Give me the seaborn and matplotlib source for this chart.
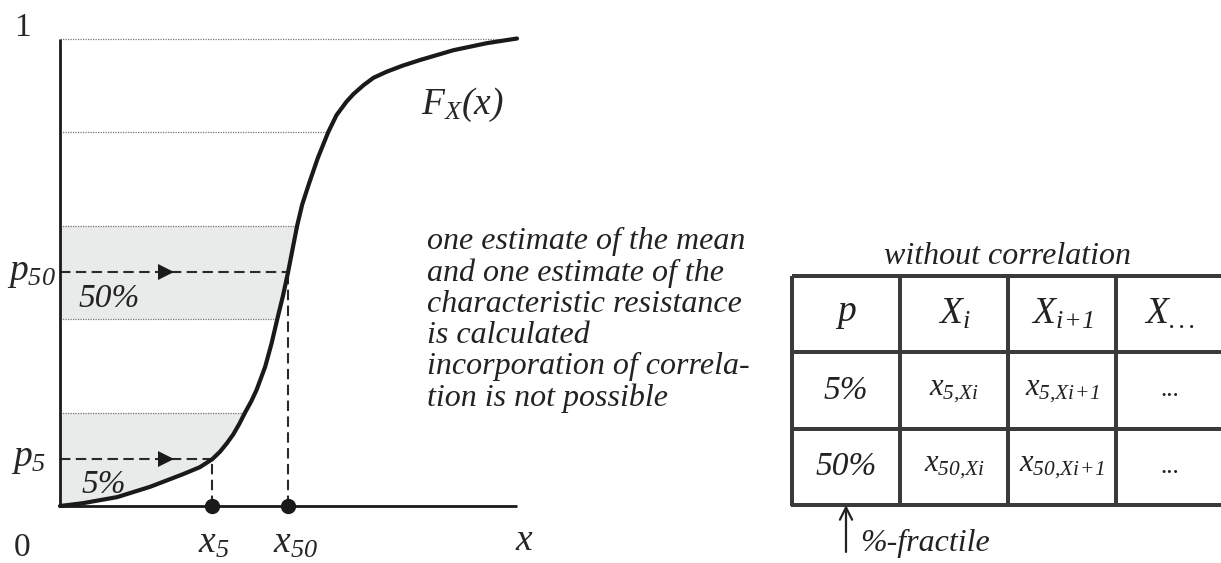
import numpy as np
import pandas as pd
import matplotlib
matplotlib.use("Agg")
import matplotlib.pyplot as plt
from matplotlib.colors import ListedColormap
import seaborn as sns

# CDF curve (x scaled 0..1, F 0..1)
cdf_x = [0, 0.05, 0.125, 0.197, 0.269, 0.306, 0.333, 0.35, 0.365, 0.379, 0.392, 0.405,
         0.418, 0.43, 0.449, 0.463, 0.4755, 0.488, 0.499, 0.509, 0.519, 0.53, 0.545,
         0.564, 0.587, 0.605, 0.627, 0.642, 0.664, 0.686, 0.715, 0.75, 0.788, 0.861,
         0.934, 1.0]
cdf_y = [0, 0.006, 0.019, 0.041, 0.068, 0.083, 0.1, 0.116, 0.134, 0.153, 0.175, 0.2,
         0.223, 0.248, 0.298, 0.348, 0.4, 0.45, 0.5, 0.55, 0.6, 0.645, 0.69,
         0.744, 0.8, 0.836, 0.865, 0.881, 0.9, 0.916, 0.929, 0.942, 0.954, 0.975,
         0.99, 1.0]

grid_levels = [0.2, 0.4, 0.6, 0.8]
shaded_bands = [(0.0, 0.2), (0.4, 0.6)]
p5, p50 = 0.1, 0.5
x5, x50 = 0.333, 0.499

paragraph = ["one estimate of the mean",
             "and one estimate of the",
             "characteristic resistance",
             "is calculated",
             "incorporation of correla-",
             "tion is not possible"]

table_cols = ["$p$", "$X_i$", r"$X_{i\!+\!1}$", "$X_{...}$"]
table_rows = [["5%", "$x_{5{,}Xi}$", r"$x_{5{,}Xi\!+\!1}$", "..."],
              ["50%", "$x_{50{,}Xi}$", r"$x_{50{,}Xi\!+\!1}$", "..."]]

sns.set_style("white")
plt.rcParams["font.family"] = ["Liberation Serif", "DejaVu Serif"]
plt.rcParams["mathtext.fontset"] = "custom"
plt.rcParams["mathtext.rm"] = "Liberation Serif:italic"
plt.rcParams["mathtext.it"] = "Liberation Serif:italic"

W, H = 1221, 563
fig = plt.figure(figsize=(W / 100, H / 100), dpi=100)

# ---- left: distribution function ----
ax = fig.add_axes([60 / W, (H - 506) / H, 457 / W, 467.5 / H])
ax.set_xlim(0, 1)
ax.set_ylim(0, 1)
ax.axis("off")

cx = np.array(cdf_x)
cy = np.array(cdf_y)
shade = "#e9ebeb"
for lo, hi in shaded_bands:
    m = (cy >= lo) & (cy <= hi)
    ax.fill_betweenx(cy[m], 0, cx[m], color=shade, lw=0, zorder=1)

for lv in grid_levels:
    ax.plot([0, np.interp(lv, cy, cx)], [lv, lv], color="#777777", lw=0.9,
            ls=(0, (1, 1)), zorder=2)
ax.plot([0, 1], [1, 1], color="#777777", lw=0.9, ls=(0, (1, 1)), zorder=2)

dash = (0, (5, 2.6))
for pv, xv in [(p5, x5), (p50, x50)]:
    ax.plot([0, xv], [pv, pv], color="#2a2a2a", lw=1.5, ls=dash, zorder=3)
    ax.plot([xv, xv], [0, pv], color="#2a2a2a", lw=1.5, ls=dash, zorder=3)
    ax.plot([0.232], [pv], marker=">", ms=12, color="#1a1a1a", zorder=4,
            markeredgewidth=0)

ax.plot([0, 0], [0, 1], color="#1a1a1a", lw=2.0, zorder=5, solid_capstyle="butt")
ax.plot([0, 1], [0, 0], color="#1a1a1a", lw=2.0, zorder=5, solid_capstyle="butt")

sns.lineplot(x=cdf_x, y=cdf_y, ax=ax, color="#1a1a1a", lw=3.0, sort=False,
             estimator=None, zorder=6)
ax.plot([x5, x50], [0, 0], "o", ms=10, color="#1a1a1a", zorder=7)
for ln in ax.lines:
    ln.set_clip_on(False)

ax.text(-0.083, 1.023, "1", fontsize=24, ha="center", va="center")
ax.text(-0.083, -0.09, "0", fontsize=24, ha="center", va="center")
ax.text(1.017, -0.075, "$x$", fontsize=27, ha="center", va="center")
ax.text(0.337, -0.1, "$x_5$", fontsize=27, ha="center", va="baseline")
ax.text(0.515, -0.1, "$x_{50}$", fontsize=27, ha="center", va="baseline")
ax.text(-0.01, p50, "$p_{50}$", fontsize=27, ha="right", va="center")
ax.text(-0.03, p5, "$p_5$", fontsize=27, ha="right", va="center")
ax.text(0.107, 0.443, "50%", fontsize=24, style="italic", ha="center", va="center",
        color="#222222")
ax.text(0.096, 0.045, "5%", fontsize=24, style="italic", ha="center", va="center",
        color="#222222", zorder=3)
ax.text(0.79, 0.858, "$F_X(x)$", fontsize=27, ha="left", va="center")

ax.text(0.803, (506 - 406) / 467.5, "\n".join(paragraph), fontsize=23,
        style="italic", ha="left", va="baseline", linespacing=1.1, color="#222222")

# ---- right: table as a heatmap ----
tab = pd.DataFrame(np.zeros((3, 4)))
labels = np.array([table_cols] + table_rows)
tax = fig.add_axes([792 / W, (H - 505) / H, 4 * 108 / W, 229 / H])
sns.heatmap(tab, ax=tax, cmap=ListedColormap(["white"]), cbar=False,
            annot=labels, fmt="", linewidths=1.6, linecolor="#3a3a3a",
            annot_kws={"color": "#222222", "fontsize": 20})
tax.collections[0].set_clip_on(False)
tax.set_xticks([])
tax.set_yticks([])
for t in tax.texts:
    s = t.get_text()
    if s in ("5%", "50%"):
        t.set_fontsize(24)
        t.set_style("italic")
    elif s == "...":
        t.set_fontsize(18)
    elif s.startswith("$x"):
        t.set_fontsize(22)
    else:
        t.set_fontsize(27)

tax.text(0.5, 1.083, "without correlation", transform=tax.transAxes, fontsize=23,
         style="italic", ha="center", va="center", color="#222222")
tax.annotate("", xy=(0.125, 0.0), xytext=(0.125, -0.205), xycoords="axes fraction",
             arrowprops=dict(arrowstyle="->", lw=1.6, color="#222222",
                             mutation_scale=22, shrinkA=0, shrinkB=0))
tax.text(0.157, -0.166, "%-fractile", transform=tax.transAxes, fontsize=23,
         style="italic", ha="left", va="center", color="#222222")

fig.savefig("out.png", dpi=100)
